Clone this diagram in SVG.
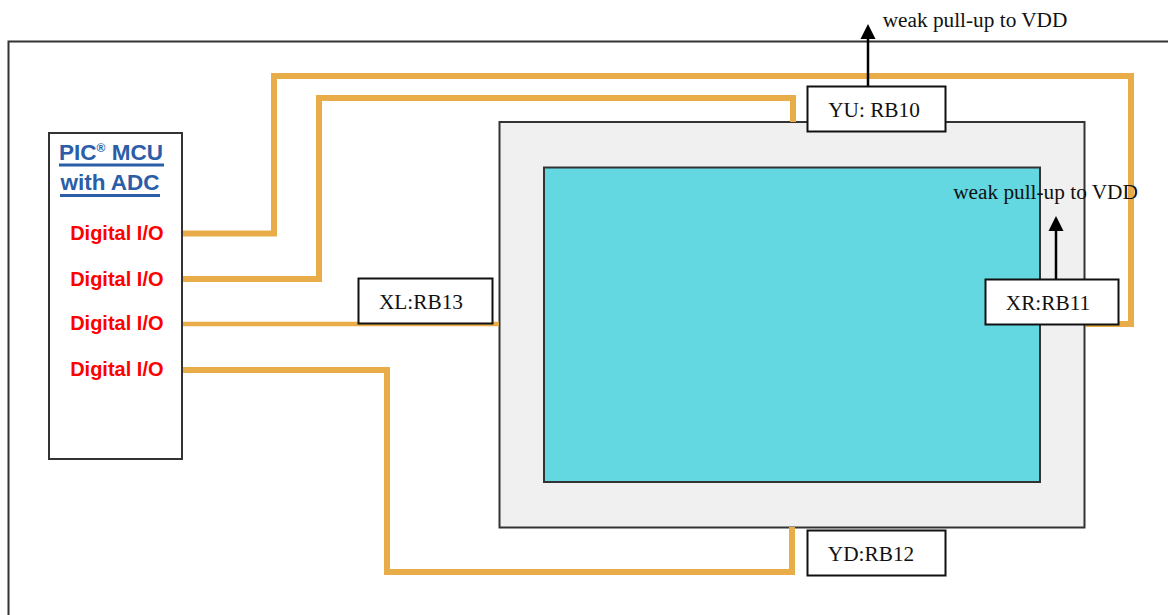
<svg xmlns="http://www.w3.org/2000/svg" width="1168" height="615" viewBox="0 0 1168 615">
<style>
.frame{fill:none;stroke:#333;stroke-width:2}
.wire{fill:none;stroke:#E8AD48;stroke-width:6;stroke-linejoin:miter}
.box{fill:#fff;stroke:#111;stroke-width:2}
.lbl{font-family:"Liberation Serif",serif;font-size:21.300px;fill:#111;text-anchor:middle}
.io{font-family:"Liberation Sans",Arial,sans-serif;font-size:20px;font-weight:bold;fill:#f00;text-anchor:end}
.ttl{font-family:"Liberation Sans",Arial,sans-serif;font-size:22.500px;font-weight:bold;fill:#2B5DA8;text-anchor:middle}
.arr{stroke:#000;stroke-width:2.500;fill:none}
</style>
<defs>
<marker id="ah" markerUnits="userSpaceOnUse" markerWidth="16" markerHeight="16" refX="1" refY="8" orient="auto" viewBox="0 0 16 16"><path d="M0 0.500L15 8L0 15.500Z" fill="#000"/></marker>
</defs>
<rect width="1168" height="615" fill="#fff"/>
<path id="outer-frame" class="frame" d="M8.500 615V41.500H1168"/>
<g id="panel">
<rect x="499.500" y="122" width="585" height="405.500" fill="#F0F0F0" stroke="#333" stroke-width="2"/>
<rect x="544" y="167.500" width="496" height="314.500" fill="#63D8E0" stroke="#333" stroke-width="2"/>
</g>
<g id="mcu">
<rect x="49" y="133" width="133" height="326" fill="#fff" stroke="#333" stroke-width="2"/>
<text class="ttl" x="111" y="160">PIC<tspan font-size="12" dy="-8">®</tspan><tspan dy="8"> MCU</tspan></text>
<rect x="59" y="163.500" width="105" height="3" fill="#2B5DA8"/>
<text class="ttl" x="110" y="190">with ADC</text>
<rect x="60" y="194" width="100" height="3" fill="#2B5DA8"/>
<text class="io" x="163.500" y="240">Digital I/O</text>
<text class="io" x="163.500" y="286">Digital I/O</text>
<text class="io" x="163.500" y="330">Digital I/O</text>
<text class="io" x="163.500" y="376">Digital I/O</text>
</g>
<g id="connectors">
<path class="wire" d="M183 233.500H274V76H1131V324H1086"/>
<path class="wire" d="M183 279H319V98H793V122"/>
<path class="wire" d="M183 324H499" style="stroke-width:4.500"/>
<path class="wire" d="M183 370H387V572H792V527"/>
<path class="arr" d="M868 86V38" marker-end="url(#ah)"/>
<path class="arr" d="M1056 279V230" marker-end="url(#ah)"/>
</g>
<g id="yu"><rect class="box" x="807.500" y="86.500" width="138" height="45"/><text class="lbl" x="874" y="117">YU: RB10</text></g>
<g id="xr"><rect class="box" x="985.500" y="279.500" width="133" height="45"/><text class="lbl" x="1048" y="310">XR:RB11</text></g>
<g id="xl"><rect class="box" x="358.500" y="278.500" width="134" height="45"/><text class="lbl" x="421" y="309">XL:RB13</text></g>
<g id="yd"><rect class="box" x="807.500" y="530.500" width="138" height="45"/><text class="lbl" x="871" y="561">YD:RB12</text></g>
<text class="lbl" x="975" y="27">weak pull-up to VDD</text>
<text class="lbl" x="1045.500" y="199">weak pull-up to VDD</text>
</svg>
